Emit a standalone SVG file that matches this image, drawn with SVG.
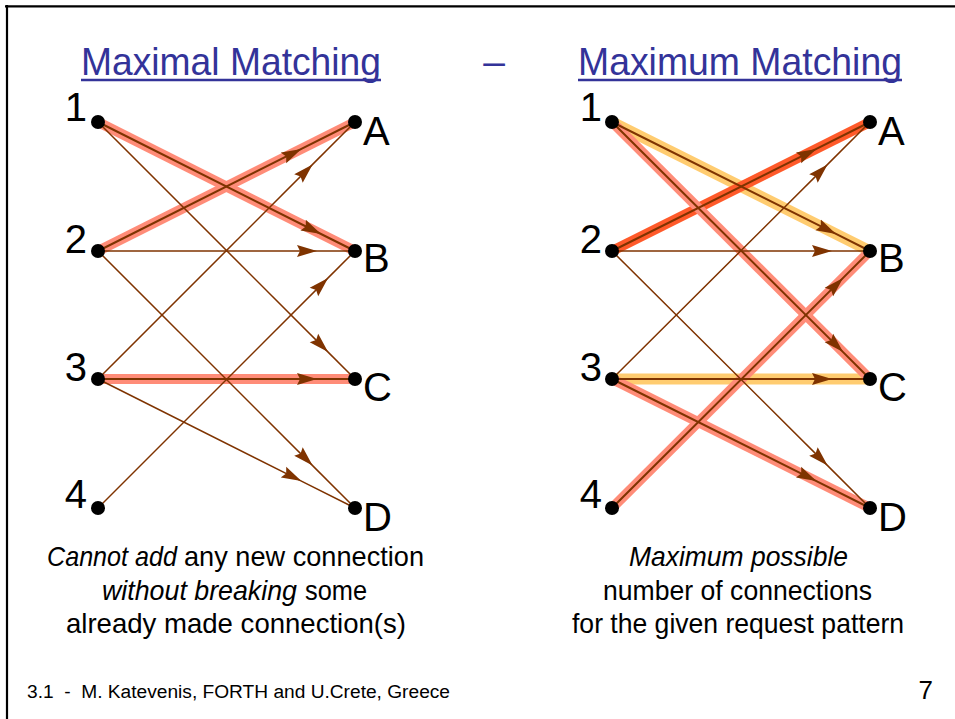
<svg xmlns="http://www.w3.org/2000/svg" width="955" height="719" viewBox="0 0 955 719">
<style>
text{font-family:"Liberation Sans",Arial,sans-serif}
.title{font-size:39px;fill:#333399}
.lbl{font-size:40px;fill:#000}
.cap{font-size:28px;fill:#000}
.it{font-style:italic}
.thin{stroke:#7F3300;stroke-width:1.5;fill:none;marker-mid:url(#ah)}
.sel{stroke:#7F3300;stroke-width:2;fill:none;marker-mid:url(#ah)}
.hs{stroke:#FF8C78;stroke-width:10;stroke-linecap:butt;fill:none}
.hy{stroke:#FFCC70;stroke-width:11;stroke-linecap:butt;fill:none}
.hr{stroke:#FF5A2A;stroke-width:10;stroke-linecap:butt;fill:none}
.dot{fill:#000}
</style>
<defs>
<marker id="ah" markerUnits="userSpaceOnUse" markerWidth="20" markerHeight="14" viewBox="0 0 20 14" refX="20" refY="7" orient="auto">
<path d="M0,1 L20,7 L0,13 L3,7 Z" fill="#7F3300"/>
</marker>
</defs>
<rect width="955" height="719" fill="#fff"/>
<path d="M5,6.3 H955 M7,5 V719" stroke="#000" stroke-width="2.2" fill="none"/>

<g id="titles">
<text class="title" x="81" y="75" textLength="300" lengthAdjust="spacingAndGlyphs">Maximal Matching</text>
<line x1="81" y1="80" x2="381" y2="80" stroke="#333399" stroke-width="2.5"/>
<text class="title" x="494" y="75" text-anchor="middle">–</text>
<text class="title" x="578" y="75" textLength="324" lengthAdjust="spacingAndGlyphs">Maximum Matching</text>
<line x1="578" y1="80" x2="902" y2="80" stroke="#333399" stroke-width="2.5"/>
</g>

<g id="connectors">
<line class="hs" x1="98" y1="122" x2="355" y2="251"/>
<line class="hs" x1="98" y1="251" x2="355" y2="122"/>
<line class="hs" x1="98" y1="379" x2="355" y2="379"/>
<path class="sel" d="M98,122 L321,234 L355,251"/>
<path class="thin" d="M98,122 L328.1,352.1 L355,379"/>
<path class="sel" d="M98,251 L301.4,148.9 L355,122"/>
<path class="thin" d="M98,251 L317,251 L355,251"/>
<path class="thin" d="M98,251 L312.6,465.6 L355,508"/>
<path class="thin" d="M98,379 L312.6,164.4 L355,122"/>
<path class="sel" d="M98,379 L317,379 L355,379"/>
<path class="thin" d="M98,379 L301.4,481.1 L355,508"/>
<path class="thin" d="M98,508 L328.1,277.9 L355,251"/>

<line class="hy" x1="612" y1="122" x2="870" y2="251"/>
<line class="hy" x1="612" y1="379" x2="870" y2="379"/>
<line class="hr" x1="612" y1="251" x2="870" y2="122"/>
<line class="hs" x1="612" y1="122" x2="870" y2="379"/>
<line class="hs" x1="612" y1="379" x2="870" y2="508"/>
<line class="hs" x1="612" y1="508" x2="870" y2="251"/>
<path class="sel" d="M612,122 L836,233.9 L870,251"/>
<path class="sel" d="M612,122 L843.1,352.1 L870,379"/>
<path class="sel" d="M612,251 L816.4,148.9 L870,122"/>
<path class="thin" d="M612,251 L832,251 L870,251"/>
<path class="thin" d="M612,251 L827.6,465.6 L870,508"/>
<path class="thin" d="M612,379 L827.6,164.4 L870,122"/>
<path class="sel" d="M612,379 L832,379 L870,379"/>
<path class="sel" d="M612,379 L816.4,481.1 L870,508"/>
<path class="sel" d="M612,508 L843.1,277.9 L870,251"/>
</g>

<g id="L1"><circle class="dot" cx="98" cy="122" r="7"/><text class="lbl" x="87" y="121" text-anchor="end">1</text></g>
<g id="L2"><circle class="dot" cx="98" cy="251" r="7"/><text class="lbl" x="87" y="253" text-anchor="end">2</text></g>
<g id="L3"><circle class="dot" cx="98" cy="379" r="7"/><text class="lbl" x="87" y="381" text-anchor="end">3</text></g>
<g id="L4"><circle class="dot" cx="98" cy="508" r="7"/><text class="lbl" x="87" y="508" text-anchor="end">4</text></g>
<g id="LA"><circle class="dot" cx="355" cy="122" r="7"/><text class="lbl" x="363" y="145">A</text></g>
<g id="LB"><circle class="dot" cx="355" cy="251" r="7"/><text class="lbl" x="363" y="272">B</text></g>
<g id="LC"><circle class="dot" cx="355" cy="379" r="7"/><text class="lbl" x="363" y="401">C</text></g>
<g id="LD"><circle class="dot" cx="355" cy="508" r="7"/><text class="lbl" x="363" y="531">D</text></g>

<g id="R1"><circle class="dot" cx="612" cy="122" r="7"/><text class="lbl" x="602" y="121" text-anchor="end">1</text></g>
<g id="R2"><circle class="dot" cx="612" cy="251" r="7"/><text class="lbl" x="602" y="253" text-anchor="end">2</text></g>
<g id="R3"><circle class="dot" cx="612" cy="379" r="7"/><text class="lbl" x="602" y="381" text-anchor="end">3</text></g>
<g id="R4"><circle class="dot" cx="612" cy="508" r="7"/><text class="lbl" x="602" y="508" text-anchor="end">4</text></g>
<g id="RA"><circle class="dot" cx="870" cy="122" r="7"/><text class="lbl" x="878" y="145">A</text></g>
<g id="RB"><circle class="dot" cx="870" cy="251" r="7"/><text class="lbl" x="878" y="272">B</text></g>
<g id="RC"><circle class="dot" cx="870" cy="379" r="7"/><text class="lbl" x="878" y="401">C</text></g>
<g id="RD"><circle class="dot" cx="870" cy="508" r="7"/><text class="lbl" x="878" y="531">D</text></g>

<g id="captions">
<text class="cap it" x="47" y="566" textLength="130" lengthAdjust="spacingAndGlyphs">Cannot add</text>
<text class="cap" x="184" y="566" textLength="240" lengthAdjust="spacingAndGlyphs">any new connection</text>
<text class="cap it" x="102" y="600" textLength="195" lengthAdjust="spacingAndGlyphs">without breaking</text>
<text class="cap" x="305" y="600" textLength="62" lengthAdjust="spacingAndGlyphs">some</text>
<text class="cap" x="66" y="633" textLength="340" lengthAdjust="spacingAndGlyphs">already made connection(s)</text>
<text class="cap it" x="629" y="566" textLength="219" lengthAdjust="spacingAndGlyphs">Maximum possible</text>
<text class="cap" x="603" y="600" textLength="269" lengthAdjust="spacingAndGlyphs">number of connections</text>
<text class="cap" x="572" y="633" textLength="332" lengthAdjust="spacingAndGlyphs">for the given request pattern</text>
</g>

<g id="footer">
<text x="27" y="698" font-size="18" textLength="423" lengthAdjust="spacingAndGlyphs" xml:space="preserve">3.1  -  M. Katevenis, FORTH and U.Crete, Greece</text>
<text x="933" y="699" font-size="26" text-anchor="end">7</text>
</g>
</svg>
